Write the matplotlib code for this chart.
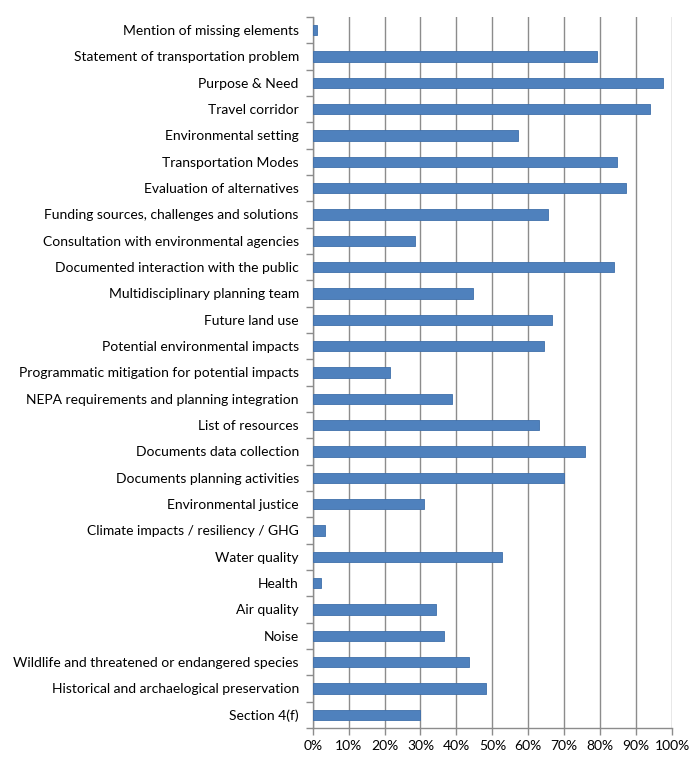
import matplotlib.pyplot as plt
import numpy as np
from matplotlib.ticker import FuncFormatter, MultipleLocator, FixedLocator

plt.rcParams['font.family'] = ['Lato', 'DejaVu Sans']

categories = [
    "Mention of missing elements",
    "Statement of transportation problem",
    "Purpose & Need",
    "Travel corridor",
    "Environmental setting",
    "Transportation Modes",
    "Evaluation of alternatives",
    "Funding sources, challenges and solutions",
    "Consultation with environmental agencies",
    "Documented interaction with the public",
    "Multidisciplinary planning team",
    "Future land use",
    "Potential environmental impacts",
    "Programmatic mitigation for potential impacts",
    "NEPA requirements and planning integration",
    "List of resources",
    "Documents data collection",
    "Documents planning activities",
    "Environmental justice",
    "Climate impacts / resiliency / GHG",
    "Water quality",
    "Health",
    "Air quality",
    "Noise",
    "Wildlife and threatened or endangered species",
    "Historical and archaelogical preservation",
    "Section 4(f)",
]
values = [1.1, 79.2, 97.5, 94.0, 57.2, 84.7, 87.2, 65.5, 28.6, 83.8,
          44.7, 66.5, 64.3, 21.5, 38.9, 63.0, 75.8, 69.9, 30.9,
          3.3, 52.6, 2.3, 34.4, 36.6, 43.6, 48.2, 29.8]

fig = plt.figure(figsize=(7, 7.68), dpi=100)
ax = fig.add_axes([0.4467, 0.0521, 0.5133, 0.9258])

n = len(categories)
y = np.arange(n)[::-1]
ax.barh(y, values, height=0.4, color='#4F81BD', edgecolor='#3F6FAA', linewidth=0.6, zorder=3)

ax.set_xlim(0, 100)
ax.set_ylim(-0.5, n - 0.5)
ax.xaxis.set_major_locator(MultipleLocator(10))
ax.xaxis.set_major_formatter(FuncFormatter(lambda v, p: f"{int(v)}%"))
ax.grid(axis='x', color='#8C8C8C', linewidth=1.0, zorder=0)

ax.set_yticks(y)
ax.set_yticklabels(categories)
ax.yaxis.set_minor_locator(FixedLocator(np.arange(-0.5, n, 1.0)))
ax.tick_params(axis='y', which='major', length=0, pad=10, labelsize=10, labelcolor='#000000')
ax.tick_params(axis='y', which='minor', length=5, color='#8C8C8C', width=1)
ax.tick_params(axis='x', which='major', length=5, color='#8C8C8C', width=1, labelsize=10, pad=4)

for s in ['top', 'right']:
    ax.spines[s].set_visible(False)
for s in ['left', 'bottom']:
    ax.spines[s].set_color('#8C8C8C')
    ax.spines[s].set_linewidth(1)

fig.savefig('out.png', dpi=100)
